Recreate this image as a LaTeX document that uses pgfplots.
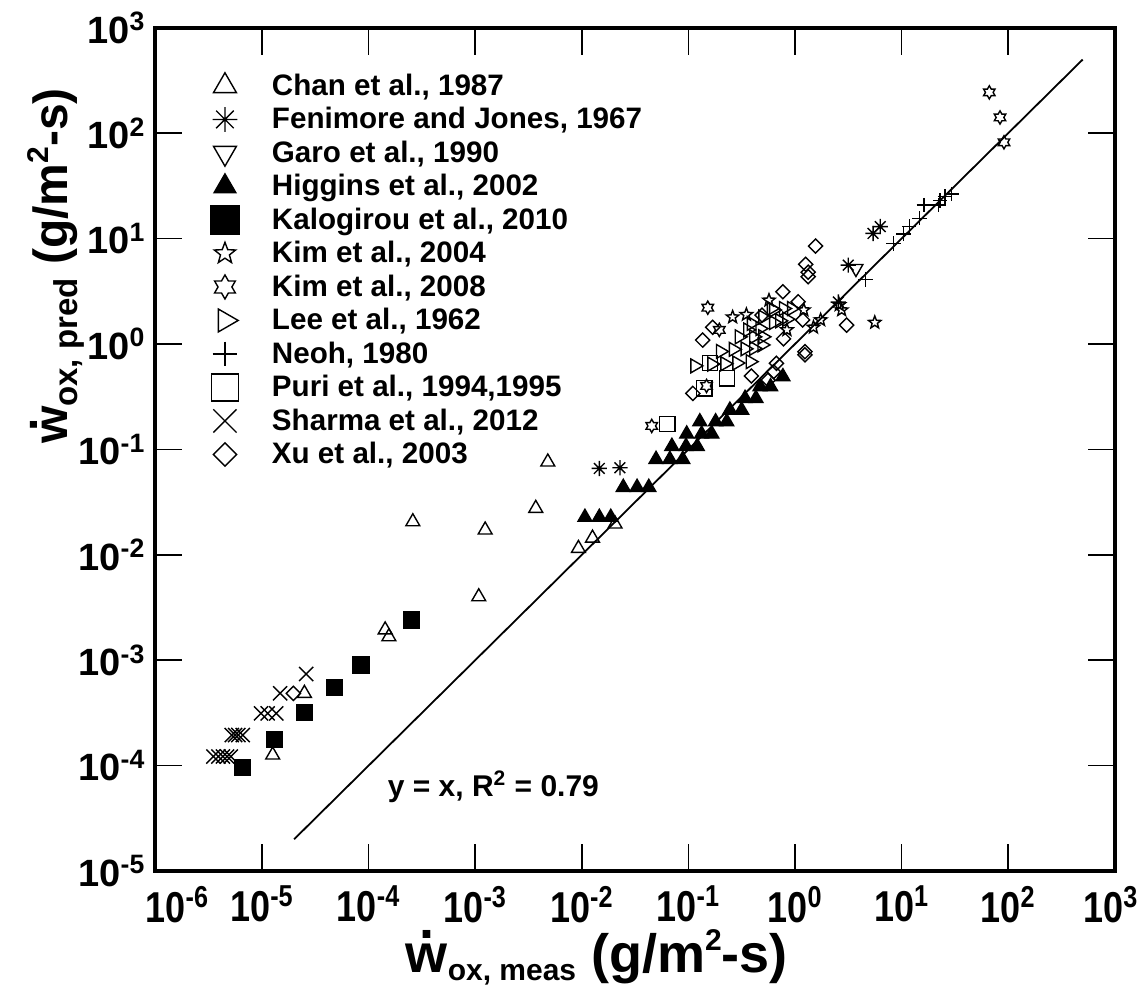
\documentclass[border=0pt]{standalone}
\usepackage{fontspec}
\setmainfont{Liberation Sans}
\usepackage{graphicx}
\usepackage{pgfplots}
\pgfplotsset{compat=1.18}
\usetikzlibrary{plotmarks}

\pgfdeclareplotmark{ast8}{%
 \pgfpathmoveto{\pgfqpoint{-\pgfplotmarksize}{0pt}}\pgfpathlineto{\pgfqpoint{\pgfplotmarksize}{0pt}}%
 \pgfpathmoveto{\pgfqpoint{0pt}{-\pgfplotmarksize}}\pgfpathlineto{\pgfqpoint{0pt}{\pgfplotmarksize}}%
 \pgfpathmoveto{\pgfqpoint{-.7071\pgfplotmarksize}{-.7071\pgfplotmarksize}}\pgfpathlineto{\pgfqpoint{.7071\pgfplotmarksize}{.7071\pgfplotmarksize}}%
 \pgfpathmoveto{\pgfqpoint{-.7071\pgfplotmarksize}{.7071\pgfplotmarksize}}\pgfpathlineto{\pgfqpoint{.7071\pgfplotmarksize}{-.7071\pgfplotmarksize}}%
 \pgfusepathqstroke}
\pgfdeclareplotmark{ostar}{%
 \pgfpathmoveto{\pgfpointpolar{90}{\pgfplotmarksize}}%
 \pgfpathlineto{\pgfpointpolar{126}{0.42\pgfplotmarksize}}%
 \pgfpathlineto{\pgfpointpolar{162}{\pgfplotmarksize}}%
 \pgfpathlineto{\pgfpointpolar{198}{0.42\pgfplotmarksize}}%
 \pgfpathlineto{\pgfpointpolar{234}{\pgfplotmarksize}}%
 \pgfpathlineto{\pgfpointpolar{270}{0.42\pgfplotmarksize}}%
 \pgfpathlineto{\pgfpointpolar{306}{\pgfplotmarksize}}%
 \pgfpathlineto{\pgfpointpolar{342}{0.42\pgfplotmarksize}}%
 \pgfpathlineto{\pgfpointpolar{18}{\pgfplotmarksize}}%
 \pgfpathlineto{\pgfpointpolar{54}{0.42\pgfplotmarksize}}%
 \pgfpathclose\pgfusepathqstroke}
\pgfdeclareplotmark{ohex}{%
 \pgfpathmoveto{\pgfpointpolar{90}{\pgfplotmarksize}}%
 \pgfpathlineto{\pgfpointpolar{120}{0.577\pgfplotmarksize}}%
 \pgfpathlineto{\pgfpointpolar{150}{\pgfplotmarksize}}%
 \pgfpathlineto{\pgfpointpolar{180}{0.577\pgfplotmarksize}}%
 \pgfpathlineto{\pgfpointpolar{210}{\pgfplotmarksize}}%
 \pgfpathlineto{\pgfpointpolar{240}{0.577\pgfplotmarksize}}%
 \pgfpathlineto{\pgfpointpolar{270}{\pgfplotmarksize}}%
 \pgfpathlineto{\pgfpointpolar{300}{0.577\pgfplotmarksize}}%
 \pgfpathlineto{\pgfpointpolar{330}{\pgfplotmarksize}}%
 \pgfpathlineto{\pgfpointpolar{0}{0.577\pgfplotmarksize}}%
 \pgfpathlineto{\pgfpointpolar{30}{\pgfplotmarksize}}%
 \pgfpathlineto{\pgfpointpolar{60}{0.577\pgfplotmarksize}}%
 \pgfpathclose\pgfusepathqstroke}

\newcommand{\wdot}{\leavevmode\setbox0\hbox{w}\hbox to \wd0{\hss\raisebox{0.62em}{.}\hss}\kern-\wd0\box0}
\newcommand{\xtl}[1]{\scalebox{1}[1.2]{10\textsuperscript{#1}}}
\newcommand{\sq}{\raisebox{0.4em}{\fontsize{15}{15}\selectfont 2}}

\pgfplotsset{limg/.style={legend image code/.code={\path[draw=none,fill=none] (0pt,-8pt) rectangle (35.5pt,8pt); \draw[##1,mark size=#1] plot coordinates {(12pt,0pt)};}}}

\begin{document}
\begin{tikzpicture}
\begin{axis}[
 name=ax,
 xmode=log, ymode=log,
 scale only axis, width=479.7pt, height=421.6pt,
 xmin=1e-6, xmax=1e3, ymin=1e-5, ymax=1e3,
 xtick={1e-6,1e-5,1e-4,1e-3,1e-2,1e-1,1,10,100,1000},
 xticklabels={\hspace*{22pt}\xtl{-6},\xtl{-5},\xtl{-4},\xtl{-3},\xtl{-2},\xtl{-1},\xtl{0},\xtl{1},\xtl{2},\xtl{3}\hspace*{4pt}},
 ytick={1e-5,1e-4,1e-3,1e-2,1e-1,1,10,100,1000},
 yticklabels={10\textsuperscript{-5},10\textsuperscript{-4},10\textsuperscript{-3},10\textsuperscript{-2},10\textsuperscript{-1},10\textsuperscript{0},10\textsuperscript{1},10\textsuperscript{2},10\textsuperscript{3}},
 xminorticks=false, yminorticks=false,
 tick align=inside, major tick length=13.5pt,
 tick style={line width=0.75pt, black},
 axis line style={line width=2pt},
 xticklabel style={font=\fontsize{18}{18}\selectfont\bfseries, yshift=-4pt},
 yticklabel style={font=\fontsize{19}{19}\selectfont\bfseries, xshift=-1.5pt},
 every axis plot/.append style={line width=0.7pt},
 legend cell align=left,
 legend style={at={(axis description cs:0.0475,0.950)}, anchor=north west, draw=none, fill=none,
   inner sep=0pt, outer sep=0pt, row sep=0.75pt, nodes={inner sep=0pt},
   font=\fontsize{14.8}{14.8}\selectfont\bfseries},
]
% Chan et al., 1987
\addplot[only marks, mark=triangle, mark size=4pt, black, limg=6.6pt] coordinates {
(4.8e-3,0.076) (2.6e-4,0.0206) (1.24e-3,0.0172) (3.7e-3,0.0276) (1.08e-3,0.004)
(9.3e-3,0.0115) (0.0126,0.0144) (0.0205,0.0196) (1.43e-4,1.94e-3) (1.55e-4,1.67e-3)
(2.5e-5,4.85e-4) (1.26e-5,1.26e-4)};
\addlegendentry{Chan et al., 1987}
% Fenimore and Jones, 1967
\addplot[only marks, mark=ast8, mark size=3.8pt, black, limg=6.2pt] coordinates {
(0.0146,0.066) (0.0228,0.067) (3.16,5.6) (5.4,11.2) (6.3,13) (2.55,2.5)};
\addlegendentry{Fenimore and Jones, 1967}
% Garo et al., 1990
\addplot[only marks, mark=triangle, mark size=4pt, mark options={rotate=180}, black, limg=6.6pt] coordinates {
(3.73,5.2)};
\addlegendentry{Garo et al., 1990}
% Higgins et al., 2002
\addplot[only marks, mark=triangle*, mark size=4pt, black, fill=black, limg=6.3pt] coordinates {
(0.0107,0.0227) (0.0146,0.0227) (0.0187,0.0227)
(0.0245,0.0437) (0.033,0.0437) (0.0425,0.0437)
(0.0497,0.0805) (0.067,0.0805) (0.0885,0.0805)
(0.07,0.107) (0.095,0.107) (0.121,0.107)
(0.0964,0.14) (0.133,0.14) (0.166,0.14)
(0.128,0.183) (0.18,0.183) (0.229,0.183)
(0.245,0.236) (0.316,0.236)
(0.34,0.305) (0.43,0.305)
(0.47,0.394) (0.59,0.394)
(0.77,0.49)};
\addlegendentry{Higgins et al., 2002}
% Kalogirou et al., 2010
\addplot[only marks, mark=square*, mark size=4pt, black, fill=black, limg=7pt] coordinates {
(6.6e-6,9.6e-5) (1.31e-5,1.78e-4) (2.5e-5,3.2e-4) (4.8e-5,5.5e-4) (8.5e-5,9.0e-4) (2.54e-4,2.41e-3)};
\addlegendentry{Kalogirou et al., 2010}
% Kim et al., 2004
\addplot[only marks, mark=ostar, mark size=3.3pt, black, limg=5.6pt] coordinates {
(0.26,1.8) (0.35,1.9) (0.57,2.6) (1.21,2.1) (0.84,1.36) (1.49,1.44) (1.74,1.69)
(2.6,2.35) (2.74,2.1) (5.6,1.6)};
\addlegendentry{Kim et al., 2004}
% Kim et al., 2008
\addplot[only marks, mark=ohex, mark size=3.3pt, black, limg=6pt] coordinates {
(66.5,244) (83.8,141) (91.3,82) (0.152,2.21) (0.195,1.36) (0.148,0.40) (0.0453,0.167)};
\addlegendentry{Kim et al., 2008}
% Lee et al., 1962
\addplot[only marks, mark=triangle, mark size=4pt, mark options={rotate=-90}, black, limg=6.6pt] coordinates {
(0.115,0.62) (0.166,0.645) (0.22,0.65) (0.285,0.66) (0.38,0.68)
(0.2,0.85) (0.264,0.89) (0.34,0.9) (0.41,0.91) (0.49,0.98)
(0.3,1.17) (0.41,1.17) (0.5,1.17) (0.36,1.36) (0.47,1.4)
(0.39,1.57) (0.63,1.6) (0.72,1.66) (0.84,1.72) (0.5,1.8)
(0.63,2.1) (0.6,2.17) (0.78,2.17) (0.93,2.17)};
\addlegendentry{Lee et al., 1962}
% Neoh, 1980
\addplot[only marks, mark=+, mark size=3.6pt, black, limg=6.2pt] coordinates {
(4.6,4.1) (8.4,9.0) (10.4,11.1) (11.8,13) (14.7,15.6) (16.2,20.8) (22.1,20.8) (22.9,22.9) (25.5,25) (29.5,26.5)};
\addlegendentry{Neoh, 1980}
% Puri et al., 1994,1995
\addplot[only marks, mark=square, mark size=3.8pt, black, limg=6.8pt] coordinates {
(0.0634,0.174) (0.231,0.472) (0.141,0.38) (0.16,0.66)};
\addlegendentry{Puri et al., 1994,1995}
% Sharma et al., 2012
\addplot[only marks, mark=x, mark size=5pt, black, limg=8.2pt] coordinates {
(2.6e-5,7.4e-4) (1.48e-5,4.85e-4)
(9.8e-6,3.13e-4) (1.13e-5,3.13e-4) (1.36e-5,3.13e-4)
(5.2e-6,1.95e-4) (5.6e-6,1.95e-4) (6.0e-6,1.95e-4) (6.6e-6,1.95e-4)
(3.5e-6,1.22e-4) (3.9e-6,1.22e-4) (4.3e-6,1.22e-4) (4.7e-6,1.22e-4) (5.1e-6,1.22e-4)};
\addlegendentry{Sharma et al., 2012}
% Xu et al., 2003
\addplot[only marks, mark=square, mark size=2.5pt, mark options={rotate=45}, black, limg=4.1pt] coordinates {
(1.56,8.5) (1.26,5.7) (1.33,4.8) (1.33,4.35) (0.77,3.13) (1.07,2.52) (1.18,1.69) (3.05,1.51)
(1.24,0.845) (1.24,0.79) (0.49,1.88) (0.169,1.44) (0.136,1.09) (0.39,0.497) (0.11,0.34)
(0.67,0.656) (0.63,0.546) (0.56,0.455) (0.78,1.12) (1.97e-5,4.85e-4)};
\addlegendentry{Xu et al., 2003}
% y = x
\addplot[black, line width=0.9pt, forget plot] coordinates {(2e-5,2e-5) (500,500)};
\node[anchor=west, font=\fontsize{15}{15}\selectfont\bfseries] at (axis cs:1.3e-4,6.3e-5) {y = x, R\textsuperscript{2} = 0.79};
\end{axis}
\node[anchor=base, inner sep=0pt, font=\fontsize{27}{27}\selectfont\bfseries] at ([shift={(220.7pt,-50.5pt)}]ax.south west)
 {\wdot\raisebox{-0.15em}{\fontsize{15}{15}\selectfont ox, meas} (g/m\sq-s)};
\node[anchor=base, inner sep=0pt, rotate=90, font=\fontsize{24}{24}\selectfont\bfseries] at ([shift={(-44pt,302.5pt)}]ax.south west)
 {\wdot\raisebox{-0.2em}{\fontsize{16.5}{16.5}\selectfont ox, pred} (g/m\sq-s)};
\pgfresetboundingbox
\path[use as bounding box] ([shift={(-77.7pt,-59.5pt)}]ax.south west) rectangle ([shift={(16.1pt,13.9pt)}]ax.north east);
\end{tikzpicture}
\end{document}
